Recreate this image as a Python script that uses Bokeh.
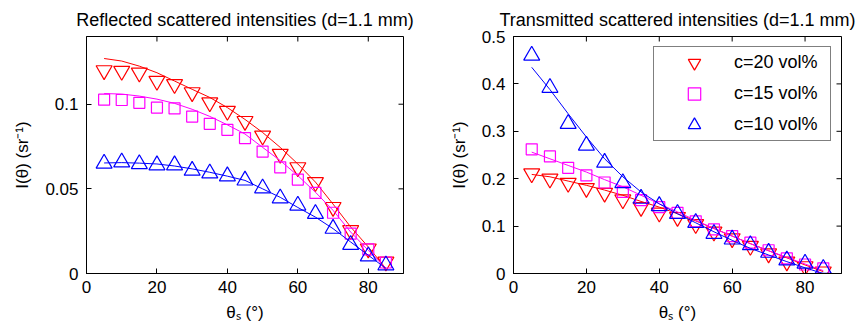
from bokeh.plotting import figure
from bokeh.layouts import row
from bokeh.models import FixedTicker, Legend, LegendItem, Range1d
from bokeh.embed import file_html
from bokeh.resources import INLINE

# ---- data ----
theta = [5, 10, 15, 20, 25, 30, 35, 40, 45, 50, 55, 60, 65, 70, 75, 80, 85]

# Reflected: measured points
refl_c20 = [0.120, 0.1196, 0.1186, 0.1137, 0.1118, 0.107, 0.101, 0.096, 0.090, 0.0814,
            0.0706, 0.0627, 0.0539, 0.0392, 0.0255, 0.0147, 0.0069]
refl_c15 = [0.1027, 0.1025, 0.1008, 0.098, 0.0975, 0.0927, 0.0884, 0.0849, 0.080, 0.072,
            0.0627, 0.0555, 0.0476, 0.0359, 0.0235, 0.0143, 0.0065]
refl_c10 = [0.065, 0.0657, 0.0647, 0.064, 0.064, 0.0608, 0.0592, 0.0575, 0.055, 0.0504,
            0.0445, 0.0402, 0.0353, 0.0265, 0.017, 0.0102, 0.0049]
# Reflected: model curves
refl_fit_c20 = [0.127, 0.1255, 0.1225, 0.1186, 0.1137, 0.1088, 0.104, 0.098, 0.091, 0.0833,
                0.0745, 0.0647, 0.054, 0.041, 0.0275, 0.0157, 0.003]
refl_fit_c15 = [0.1063, 0.1060, 0.1048, 0.103, 0.1005, 0.097, 0.0928, 0.0878, 0.0824, 0.0745,
                0.0667, 0.0578, 0.048, 0.0373, 0.0245, 0.0137, 0.003]
refl_fit_c10 = [0.0653, 0.0655, 0.0652, 0.0647, 0.0635, 0.0618, 0.0598, 0.0575, 0.055, 0.050,
                0.045, 0.039, 0.0333, 0.0265, 0.0186, 0.0108, 0.003]

# Transmitted: measured points
trans_c20 = [0.211, 0.200, 0.191, 0.180, 0.170, 0.156, 0.140, 0.128, 0.119, 0.104,
             0.088, 0.074, 0.058, 0.042, 0.025, 0.015, 0.004]
trans_c15 = [0.262, 0.247, 0.223, 0.207, 0.192, 0.172, 0.155, 0.140, 0.128, 0.110,
             0.093, 0.079, 0.065, 0.049, 0.032, 0.019, 0.011]
trans_c10 = [0.460, 0.392, 0.316, 0.270, 0.234, 0.191, 0.158, 0.1426, 0.126, 0.107,
             0.084, 0.072, 0.060, 0.044, 0.028, 0.021, 0.010]
# Transmitted: model curves
trans_fit_c20 = [0.209, 0.204, 0.195, 0.186, 0.176, 0.165, 0.152, 0.140, 0.126, 0.111,
                 0.095, 0.079, 0.063, 0.048, 0.033, 0.018, 0.004]
trans_fit_c15 = [0.256, 0.242, 0.228, 0.214, 0.198, 0.183, 0.165, 0.147, 0.130, 0.112,
                 0.095, 0.079, 0.063, 0.048, 0.034, 0.020, 0.006]
trans_fit_c10 = [0.435, 0.388, 0.337, 0.288, 0.242, 0.204, 0.172, 0.147, 0.126, 0.107,
                 0.088, 0.070, 0.053, 0.039, 0.025, 0.012, 0.0]

labels = ["c=20 vol%", "c=15 vol%", "c=10 vol%"]
x_max = 90
x_ticks = [0, 20, 40, 60, 80]
refl_ymax = 0.14
refl_yticks = [0, 0.05, 0.1]
refl_ylabels = ["0", "0.05", "0.1"]
trans_ymax = 0.5
trans_yticks = [0, 0.1, 0.2, 0.3, 0.4, 0.5]
trans_ylabels = ["0", "0.1", "0.2", "0.3", "0.4", "0.5"]

RED = "#ff0000"
MAG = "#ff00ff"
BLUE = "#0000ff"
FONT = "Liberation Sans"


def make_fig(title, ymax, yticks, ylabels, fw, left, right):
    p = figure(frame_width=fw, frame_height=237, output_backend="svg",
               toolbar_location=None, x_range=Range1d(0, x_max), y_range=Range1d(0, ymax),
               min_border_left=left, min_border_right=right, min_border_top=36,
               min_border_bottom=58)
    p.title.text = title
    p.title.align = "center"
    p.title.text_font = FONT
    p.title.text_font_size = "18px"
    p.title.text_font_style = "normal"
    p.title.text_color = "black"
    p.title.standoff = 13
    p.xgrid.visible = False
    p.ygrid.visible = False
    p.outline_line_color = "black"
    p.outline_line_alpha = 1
    p.xaxis.ticker = FixedTicker(ticks=x_ticks)
    p.yaxis.ticker = FixedTicker(ticks=yticks)
    p.yaxis.major_label_overrides = {t: l for t, l in zip(yticks, ylabels)}
    for ax in [p.xaxis[0], p.yaxis[0]]:
        ax.major_tick_in = 5
        ax.major_tick_out = 0
        ax.minor_tick_in = 0
        ax.minor_tick_out = 0
        ax.axis_line_color = "black"
        ax.major_tick_line_color = "black"
        ax.major_label_text_font = FONT
        ax.major_label_text_font_size = "17px"
        ax.major_label_text_color = "black"
        ax.axis_label_text_font = FONT
        ax.axis_label_text_font_size = "17px"
        ax.axis_label_text_font_style = "normal"
        ax.axis_label_text_color = "black"
    p.xaxis.axis_label = "θₛ (°)"
    p.yaxis.axis_label = "I(θ) (sr⁻¹)"
    p.xaxis.major_label_standoff = 7
    p.xaxis.axis_label_standoff = 7
    p.yaxis.major_label_standoff = 8
    p.yaxis.axis_label_standoff = 10
    # mirrored ticks on the top and right edges (box on)
    p.ray(x=x_ticks, y=[ymax] * len(x_ticks), length=5, length_units="screen",
          angle=-90, angle_units="deg", line_color="black", line_width=1)
    p.ray(x=[x_max] * len(yticks), y=yticks, length=5, length_units="screen",
          angle=180, angle_units="deg", line_color="black", line_width=1)
    return p


def draw(p, pts, fits):
    rs = []
    for (vals, fit, col, mk, sz) in zip(pts, fits, [RED, MAG, BLUE],
                                        ["inverted_triangle", "square", "triangle"],
                                        [16, 11, 16]):
        p.line(theta, fit, line_color=col, line_width=1)
        r = p.scatter(theta, vals, marker=mk, size=sz, fill_color=None,
                      line_color=col, line_width=1.2)
        rs.append(r)
    return rs


p1 = make_fig("Reflected scattered intensities (d=1.1 mm)", refl_ymax, refl_yticks,
              refl_ylabels, 317, 86, 27)
draw(p1, [refl_c20, refl_c15, refl_c10], [refl_fit_c20, refl_fit_c15, refl_fit_c10])

p2 = make_fig("Transmitted scattered intensities (d=1.1 mm)", trans_ymax, trans_yticks,
              trans_ylabels, 328, 83, 22)
rs = draw(p2, [trans_c20, trans_c15, trans_c10], [trans_fit_c20, trans_fit_c15, trans_fit_c10])

legend = Legend(items=[LegendItem(label=l, renderers=[r]) for l, r in zip(labels, rs)],
                location="top_right")
legend.border_line_color = "black"
legend.border_line_width = 1
legend.background_fill_alpha = 1
legend.label_text_font = FONT
legend.label_text_font_size = "18px"
legend.label_text_color = "black"
legend.glyph_width = 80
legend.glyph_height = 31
legend.spacing = -9
legend.padding = 0
legend.margin = 10
legend.label_standoff = 0
legend.label_width = 96
p2.add_layout(legend)

layout = row(p1, p2, spacing=0)
open("out.html", "w").write(file_html(layout, INLINE))
